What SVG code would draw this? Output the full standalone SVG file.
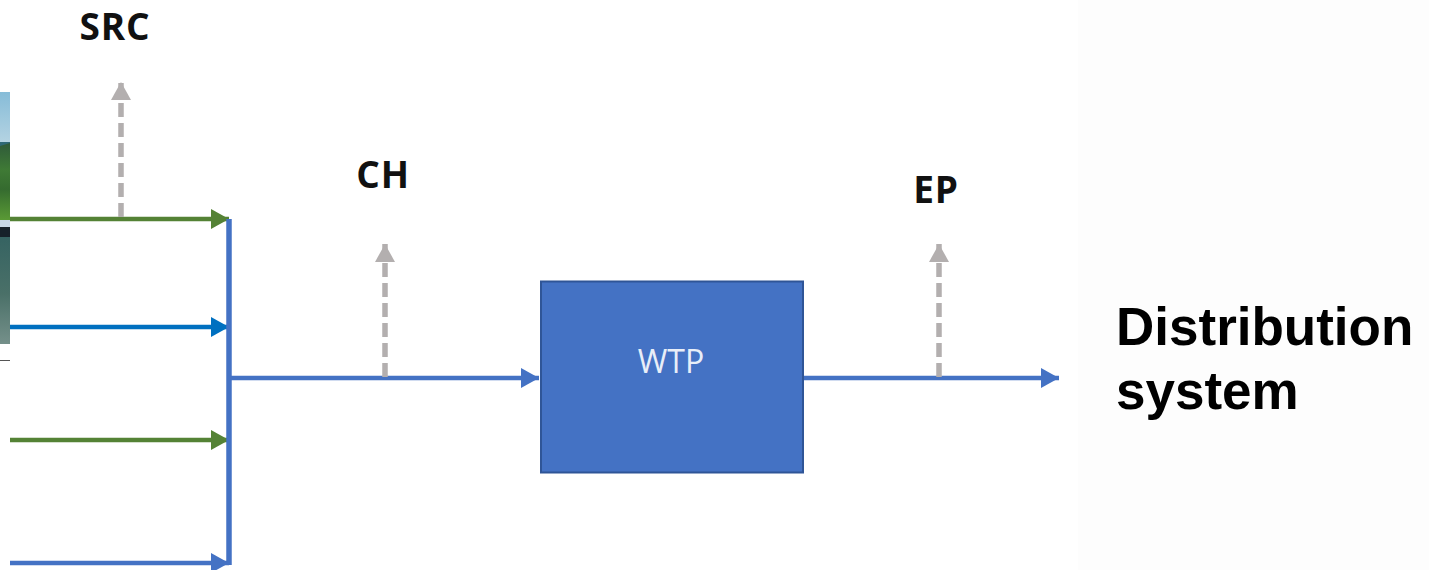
<svg xmlns="http://www.w3.org/2000/svg" width="1429" height="570" viewBox="0 0 1429 570">
<defs>
<linearGradient id="water" x1="0" y1="0" x2="0" y2="1"><stop offset="0" stop-color="#2f6f85"/><stop offset="0.5" stop-color="#2f5f60"/><stop offset="0.8" stop-color="#4a7068"/><stop offset="1" stop-color="#75908a"/></linearGradient>
<linearGradient id="sky" x1="0" y1="0" x2="0" y2="1"><stop offset="0" stop-color="#86bcd8"/><stop offset="1" stop-color="#b4d3e2"/></linearGradient>
<linearGradient id="hill" x1="0" y1="0" x2="0" y2="1"><stop offset="0" stop-color="#2f5a3a"/><stop offset="0.35" stop-color="#3f7a35"/><stop offset="0.6" stop-color="#356b2f"/><stop offset="1" stop-color="#5a9a35"/></linearGradient>
<marker id="ag" markerUnits="userSpaceOnUse" markerWidth="20" markerHeight="20" refX="20" refY="10" viewBox="0 0 20 20" orient="auto"><path d="M2 0L20 10L2 20Z" fill="#548235"/></marker>
<marker id="ab" markerUnits="userSpaceOnUse" markerWidth="20" markerHeight="20" refX="20" refY="10" viewBox="0 0 20 20" orient="auto"><path d="M2 0L20 10L2 20Z" fill="#0070c0"/></marker>
<marker id="al" markerUnits="userSpaceOnUse" markerWidth="20" markerHeight="20" refX="20" refY="10" viewBox="0 0 20 20" orient="auto"><path d="M2 0L20 10L2 20Z" fill="#4472c4"/></marker>
<marker id="ay" markerUnits="userSpaceOnUse" markerWidth="20" markerHeight="20" refX="20" refY="10" viewBox="0 0 20 20" orient="auto"><path d="M2 0L20 10L2 20Z" fill="#b3afaf"/></marker>
</defs>
<style>
.c{fill:none;stroke-width:4.500}
.v{fill:none;stroke:#4472c4;stroke-width:5.500}
.d{fill:none;stroke:#b3afaf;stroke-width:5.500;stroke-dasharray:14 6;marker-end:url(#ay)}
.t{font-family:"Open Sans","Noto Sans",sans-serif;font-weight:700;font-size:37px;letter-spacing:0.800px;fill:#111;text-anchor:middle}
.ds{font-family:"Liberation Sans",Arial,sans-serif;font-weight:700;font-size:53px;fill:#000}
</style>
<rect width="1429" height="570" fill="#fff"/>
<rect x="1078" width="351" height="570" fill="#fdfdfd"/>
<g id="photo">
<rect x="0" y="92" width="10" height="252" fill="url(#water)"/>
<rect x="0" y="92" width="10" height="50" fill="url(#sky)"/>
<path d="M0 146L10 143V220H0Z" fill="url(#hill)"/>
<rect x="0" y="220" width="10" height="7" fill="#c8d8e6"/>
<rect x="0" y="227" width="10" height="10" fill="#16212a"/>
<rect x="0" y="360" width="10" height="1" fill="#555"/>
</g>
<g id="connectors">
<path class="c" stroke="#548235" marker-end="url(#ag)" d="M10 219H229"/>
<path class="c" stroke="#0070c0" marker-end="url(#ab)" d="M10 327H229"/>
<path class="c" stroke="#548235" marker-end="url(#ag)" d="M10 440H229"/>
<path class="c" stroke="#4472c4" marker-end="url(#al)" d="M10 563H229"/>
<path class="v" d="M229 219V565"/>
<path class="c" stroke="#4472c4" marker-end="url(#al)" d="M229 378H539"/>
<path class="c" stroke="#4472c4" marker-end="url(#al)" d="M804 378H1059"/>
<path class="d" d="M121 217V82"/>
<path class="d" d="M385 377V244"/>
<path class="d" d="M939 377V244"/>
</g>
<g id="wtp">
<rect x="541" y="281.500" width="262" height="191" fill="#4472c4" stroke="#2f5597" stroke-width="2"/>
<text x="671" y="373" font-family="'Open Sans','Noto Sans',sans-serif" font-size="32" fill="#e8eef8" text-anchor="middle">WTP</text>
</g>
<g id="src"><text class="t" x="115" y="40">SRC</text></g>
<g id="ch"><text class="t" x="383" y="188">CH</text></g>
<g id="ep"><text class="t" x="936" y="203">EP</text></g>
<g id="dist"><text class="ds" x="1116" y="345">Distribution</text><text class="ds" x="1116" y="409">system</text></g>
</svg>
